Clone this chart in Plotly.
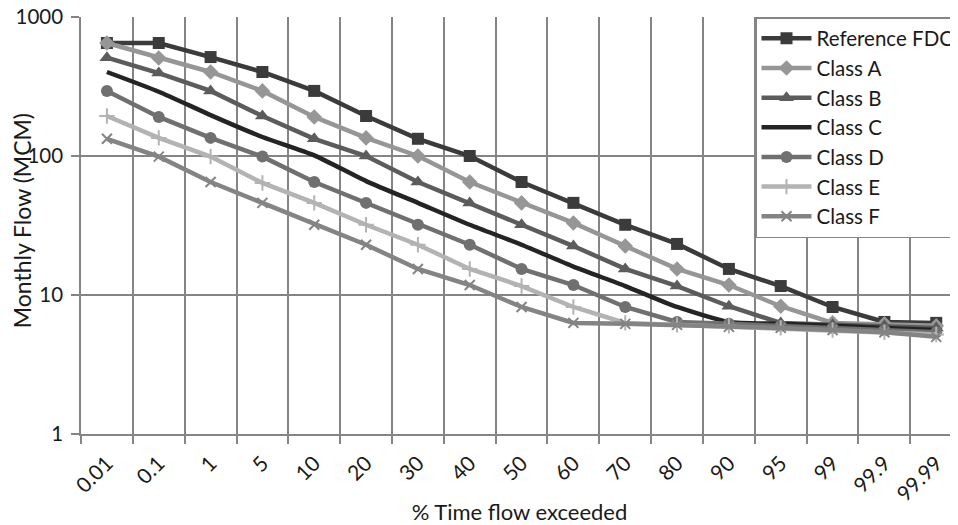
import plotly.graph_objects as go

categories = ["0.01", "0.1", "1", "5", "10", "20", "30", "40", "50", "60",
              "70", "80", "90", "95", "99", "99.9", "99.99"]

ref_fdc = [650, 650, 515, 402, 294, 194, 133, 100, 65, 46, 32, 23.3, 15.4, 11.6, 8.2, 6.4, 6.3]
class_a = [650, 507, 402, 294, 191, 135, 100, 65, 46, 33, 22.5, 15.4, 11.8, 8.3, 6.3, 6.2, 6.0]
class_b = [510, 395, 294, 194, 133, 100, 65, 46, 32, 22.5, 15.4, 11.6, 8.3, 6.3, 6.1, 6.0, 5.8]
class_c = [402, 290, 197, 137, 101, 66, 46, 32, 23, 16, 11.6, 8.2, 6.4, 6.2, 6.0, 5.8, 5.6]
class_d = [294, 191, 135, 99, 65, 46, 32, 23, 15.4, 11.8, 8.2, 6.4, 6.2, 6.0, 5.8, 5.6, 5.4]
class_e = [194, 135, 99, 64, 46, 32, 23, 15.4, 11.6, 8.2, 6.3, 6.1, 6.0, 5.8, 5.6, 5.4, 5.2]
class_f = [133, 99, 65, 46, 32, 23, 15.4, 11.8, 8.2, 6.3, 6.2, 6.1, 5.9, 5.8, 5.6, 5.4, 5.0]

y_ticks = [1, 10, 100, 1000]

FONT = "Lato"
GRID = "#858585"
xpos = list(range(len(categories)))

series = [
    ("Reference FDC", ref_fdc, "#3b3b3b", "square", 12, "linear"),
    ("Class A", class_a, "#969696", "diamond", 12, "linear"),
    ("Class B", class_b, "#5c5c5c", "triangle-up", 13, "linear"),
    ("Class C", class_c, "#242424", None, 0, "spline"),
    ("Class D", class_d, "#707070", "circle", 12, "linear"),
    ("Class E", class_e, "#b3b3b3", "cross-thin", 11, "linear"),
    ("Class F", class_f, "#848484", "x-thin", 10, "linear"),
]

fig = go.Figure()
for name, vals, col, sym, size, shape in series:
    if sym is None:
        mode = "lines"
        marker = dict()
    else:
        mode = "lines+markers"
        marker = dict(symbol=sym, size=size, color=col,
                      line=dict(width=2 if "thin" in sym else 0, color=col))
    fig.add_trace(go.Scatter(
        x=xpos, y=vals, name=name, mode=mode,
        line=dict(color=col, width=4.5, shape=shape, smoothing=0.6),
        marker=marker,
    ))

# page body has an 8px default margin: figure is sized/offset to compensate
fig.update_layout(
    width=950, height=517,
    margin=dict(l=73, r=0, t=9, b=91, autoexpand=False),
    paper_bgcolor="white", plot_bgcolor="white",
    font=dict(family=FONT, size=21, color="#1a1a1a"),
    showlegend=True,
    legend=dict(
        x=(755 - 81) / 877, y=1, xanchor="left", yanchor="top",
        bgcolor="white", bordercolor=GRID, borderwidth=1.5,
        font=dict(family=FONT, size=20.5, color="#1a1a1a"),
        itemwidth=50, tracegroupgap=0,
    ),
    xaxis=dict(
        range=[-0.5, 16.42],
        tickmode="array", tickvals=xpos, ticktext=categories,
        tickangle=-45, ticks="", showgrid=False, zeroline=False,
        ticklabelstandoff=7, ticklabeloverflow="allow",
        showline=True, linecolor=GRID, linewidth=1.5,
        minor=dict(tickmode="array", tickvals=[i - 0.5 for i in range(len(categories) + 1)],
                   showgrid=True, gridcolor=GRID, gridwidth=1.5,
                   ticks="outside", ticklen=8, tickcolor=GRID, tickwidth=1.5),
        title=dict(text="% Time flow exceeded", font=dict(family=FONT, size=22), standoff=2),
        tickfont=dict(family=FONT, size=21),
    ),
    yaxis=dict(
        type="log", range=[0, 3],
        tickmode="array", tickvals=y_ticks, ticktext=[str(v) for v in y_ticks],
        showgrid=True, gridcolor=GRID, gridwidth=1.5,
        ticks="outside", ticklen=8, tickcolor=GRID, tickwidth=1.5,
        ticklabelstandoff=4, ticklabeloverflow="allow",
        showline=True, linecolor=GRID, linewidth=1.5, zeroline=False,
        tickfont=dict(family=FONT, size=20.5),
    ),
    annotations=[dict(
        text="Monthly Flow (MCM)", textangle=-90,
        xref="paper", yref="paper", x=0, y=0.51, xshift=-59,
        xanchor="center", yanchor="middle", showarrow=False,
        font=dict(family=FONT, size=23, color="#1a1a1a"),
    )],
)

fig.write_html("out.html")
